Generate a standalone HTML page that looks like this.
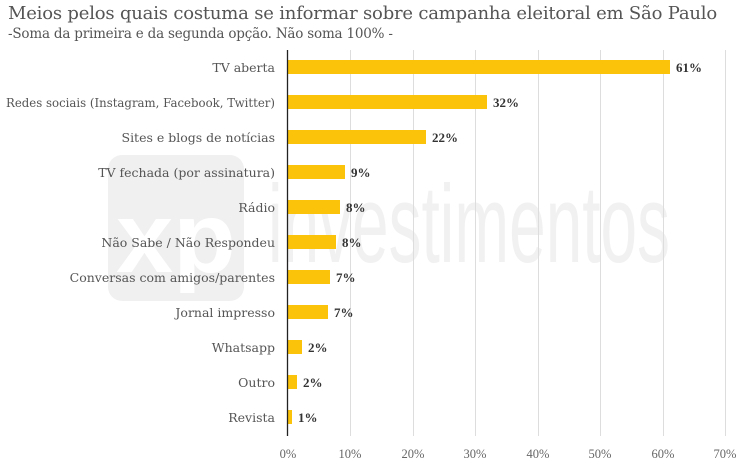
<!DOCTYPE html>
<html><head><meta charset="utf-8"><style>
body{margin:0;width:749px;height:470px;background:#fff;overflow:hidden;position:relative;font-family:"DejaVu Serif",serif;color:#555}
.t{position:absolute;left:8px;top:3px;font-size:18px;color:#555;white-space:nowrap;letter-spacing:-0.2px}
.s{position:absolute;left:8px;top:26px;font-size:13.5px;color:#555;white-space:nowrap;letter-spacing:-0.2px}
</style></head><body>
<svg width="749" height="470" style="position:absolute;left:0;top:0" font-family="DejaVu Serif, serif">
<rect x="108" y="155" width="136" height="146" rx="14" fill="#f0f0f0"/>
<text x="176" y="272" font-family="Liberation Sans, sans-serif" font-weight="bold" font-size="100" fill="#fff" text-anchor="middle" textLength="120" lengthAdjust="spacingAndGlyphs">xp</text>
<text x="268" y="262" font-family="Liberation Sans, sans-serif" font-size="110" fill="#f1f1f1" textLength="402" lengthAdjust="spacingAndGlyphs">investimentos</text>
<g stroke="#dddddd" stroke-width="1">
<line x1="350.5" y1="50" x2="350.5" y2="436"/><line x1="413.5" y1="50" x2="413.5" y2="436"/><line x1="475.5" y1="50" x2="475.5" y2="436"/><line x1="538.5" y1="50" x2="538.5" y2="436"/><line x1="600.5" y1="50" x2="600.5" y2="436"/><line x1="663.5" y1="50" x2="663.5" y2="436"/><line x1="725.5" y1="50" x2="725.5" y2="436"/>
</g>
<g fill="#fcc30b">
<rect x="288" y="60" width="382" height="14"/>
<rect x="288" y="95" width="199" height="14"/>
<rect x="288" y="130" width="138" height="14"/>
<rect x="288" y="165" width="57" height="14"/>
<rect x="288" y="200" width="52" height="14"/>
<rect x="288" y="235" width="48" height="14"/>
<rect x="288" y="270" width="42" height="14"/>
<rect x="288" y="305" width="40" height="14"/>
<rect x="288" y="340" width="14" height="14"/>
<rect x="288" y="375" width="9" height="14"/>
<rect x="288" y="410" width="4" height="14"/>
</g>
<line x1="287.5" y1="50" x2="287.5" y2="436" stroke="#222" stroke-width="1.3"/>
<g font-size="12.5" fill="#555" text-anchor="end">
<text x="275" y="72">TV aberta</text>
<text x="275" y="107" textLength="269" lengthAdjust="spacingAndGlyphs">Redes sociais (Instagram, Facebook, Twitter)</text>
<text x="275" y="142">Sites e blogs de notícias</text>
<text x="275" y="177">TV fechada (por assinatura)</text>
<text x="275" y="212">Rádio</text>
<text x="275" y="247">Não Sabe / Não Respondeu</text>
<text x="275" y="282">Conversas com amigos/parentes</text>
<text x="275" y="317">Jornal impresso</text>
<text x="275" y="352">Whatsapp</text>
<text x="275" y="387">Outro</text>
<text x="275" y="422">Revista</text>
</g>
<g font-size="13" fill="#333" font-weight="bold" font-family="Liberation Serif, serif">
<text x="676" y="72">61%</text>
<text x="493" y="107">32%</text>
<text x="432" y="142">22%</text>
<text x="351" y="177">9%</text>
<text x="346" y="212">8%</text>
<text x="342" y="247">8%</text>
<text x="336" y="282">7%</text>
<text x="334" y="317">7%</text>
<text x="308" y="352">2%</text>
<text x="303" y="387">2%</text>
<text x="298" y="422">1%</text>
</g>
<g font-size="12.5" fill="#666" text-anchor="middle" font-family="Liberation Serif, serif">
<text x="288" y="458">0%</text><text x="350" y="458">10%</text><text x="413" y="458">20%</text><text x="475" y="458">30%</text><text x="538" y="458">40%</text><text x="600" y="458">50%</text><text x="663" y="458">60%</text><text x="725" y="458">70%</text>
</g>
</svg>
<div class="t">Meios pelos quais costuma se informar sobre campanha eleitoral em São Paulo</div>
<div class="s">-Soma da primeira e da segunda opção. Não soma 100% -</div>
</body></html>
